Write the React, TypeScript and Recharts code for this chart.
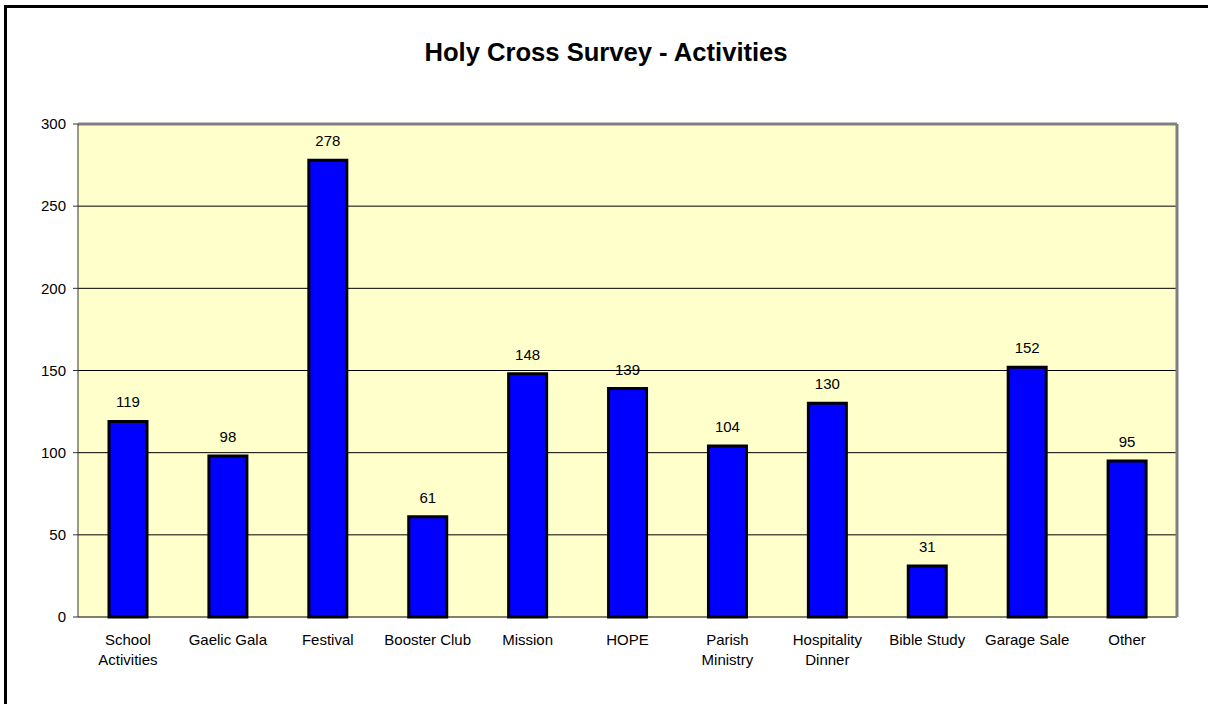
import React from 'react';
import {
  BarChart,
  Bar,
  XAxis,
  YAxis,
  CartesianGrid,
  LabelList,
  ReferenceLine,
} from 'recharts';

// survey counts per activity
const categories = [
  'School\nActivities',
  'Gaelic Gala',
  'Festival',
  'Booster Club',
  'Mission',
  'HOPE',
  'Parish\nMinistry',
  'Hospitality\nDinner',
  'Bible Study',
  'Garage Sale',
  'Other',
];
const counts = [119, 98, 278, 61, 148, 139, 104, 130, 31, 152, 95];
const yTicks = [0, 50, 100, 150, 200, 250, 300];
const boundaryTicks = [0, 1, 2, 3, 4, 5, 6, 7, 8, 9, 10, 11];

const chartData = categories.map((name, i) => ({ name, value: counts[i] }));

const FONT = 'Arial, "Liberation Sans", sans-serif';

const CategoryTick = (props: any) => {
  const { x, y, payload } = props;
  const lines = String(payload.value).split('\n');
  return (
    <text x={x} y={y} textAnchor="middle" fill="#000" fontSize={15} fontFamily={FONT}>
      {lines.map((ln, i) => (
        <tspan key={i} x={x} y={y + 28 + i * 20}>
          {ln}
        </tspan>
      ))}
    </text>
  );
};

export default function App() {
  return (
    <div
      style={{
        position: 'absolute',
        left: 0,
        top: 0,
        width: 1208,
        height: 704,
        background: '#fff',
        overflow: 'hidden',
        fontFamily: FONT,
      }}
    >
      {/* chart frame: only left and top edges show */}
      <div style={{ position: 'absolute', left: 4, top: 5, width: 1204, height: 3, background: '#000' }} />
      <div style={{ position: 'absolute', left: 4, top: 5, width: 3, height: 699, background: '#000' }} />
      <div
        style={{
          position: 'absolute',
          left: 0,
          top: 37,
          width: 1212,
          textAlign: 'center',
          fontSize: 25.6,
          lineHeight: '30px',
          fontWeight: 'bold',
          color: '#000',
        }}
      >
        Holy Cross Survey - Activities
      </div>
      <div style={{ position: 'absolute', left: 0, top: 0 }}>
        <BarChart
          width={1208}
          height={704}
          data={chartData}
          margin={{ top: 124, right: 30, left: 0, bottom: 27 }}
        >
          <CartesianGrid
            xAxisId="cat"
            vertical={false}
            stroke="#000"
            fill="#FFFFCC"
            fillOpacity={1}
          />
          <XAxis
            xAxisId="ticks"
            type="number"
            domain={[0, 11]}
            ticks={boundaryTicks}
            height={0}
            tickSize={5}
            tickFormatter={() => ''}
            tickLine={{ stroke: '#666' }}
            axisLine={{ stroke: '#555' }}
            allowDataOverflow
          />
          <XAxis
            xAxisId="cat"
            dataKey="name"
            height={60}
            interval={0}
            tickSize={0}
            tickMargin={0}
            tickLine={false}
            axisLine={false}
            tick={<CategoryTick />}
          />
          <YAxis
            width={78}
            domain={[0, 300]}
            ticks={yTicks}
            interval={0}
            tickSize={5}
            tickMargin={7}
            tickLine={{ stroke: '#333' }}
            axisLine={{ stroke: '#333' }}
            tick={{ fill: '#000', fontSize: 15, fontFamily: FONT }}
          />
          {/* right edge of the plot frame */}
          <YAxis
            yAxisId="frame"
            orientation="right"
            width={1}
            domain={[0, 300]}
            tick={false}
            tickLine={false}
            axisLine={{ stroke: '#808080', strokeWidth: 3 }}
          />
          <ReferenceLine xAxisId="ticks" y={300} stroke="#808080" strokeWidth={3} />
          <ReferenceLine
            xAxisId="ticks"
            x={11}
            stroke="#808080"
            strokeWidth={3}
            ifOverflow="visible"
          />
          <Bar
            xAxisId="cat"
            dataKey="value"
            fill="#0000FF"
            stroke="#000"
            strokeWidth={3}
            barSize={38}
            isAnimationActive={false}
          >
            <LabelList
              dataKey="value"
              position="top"
              offset={14}
              fill="#000"
              fontSize={15}
              fontFamily={FONT}
            />
          </Bar>
        </BarChart>
      </div>
    </div>
  );
}
